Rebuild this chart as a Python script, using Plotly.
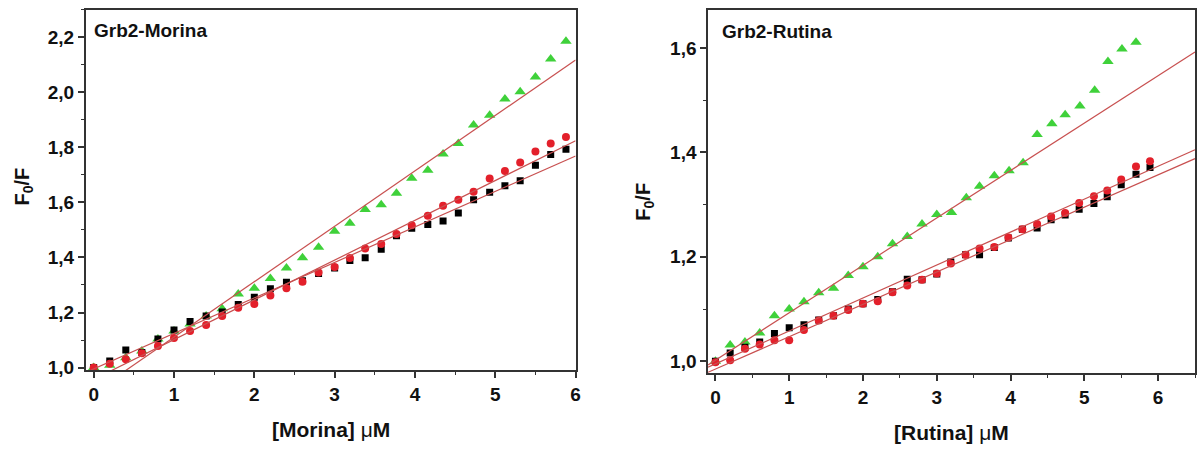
import plotly.graph_objects as go

# ---------------- data: Grb2-Morina ----------------
x_mor = [0.0, 0.2, 0.4, 0.6, 0.8, 1.0, 1.2, 1.4, 1.6, 1.8, 2.0, 2.2, 2.4, 2.6, 2.8, 3.0,
         3.19, 3.38, 3.58, 3.77, 3.96, 4.16, 4.35, 4.54, 4.73, 4.93, 5.12, 5.31, 5.50, 5.69, 5.88]
mor_black = [1.000, 1.024, 1.064, 1.055, 1.104, 1.136, 1.167, 1.187, 1.202, 1.229, 1.255, 1.286,
             1.310, 1.315, 1.342, 1.362, 1.389, 1.399, 1.430, 1.479, 1.506, 1.520, 1.533, 1.562,
             1.610, 1.637, 1.661, 1.679, 1.735, 1.774, 1.793]
mor_red = [1.000, 1.014, 1.030, 1.052, 1.078, 1.107, 1.133, 1.155, 1.187, 1.217, 1.231, 1.262,
           1.288, 1.312, 1.345, 1.365, 1.398, 1.433, 1.449, 1.485, 1.517, 1.552, 1.588, 1.610,
           1.639, 1.687, 1.714, 1.745, 1.785, 1.814, 1.838]
mor_green = [1.000, 1.008, 1.036, 1.060, 1.104, 1.133, 1.158, 1.187, 1.214, 1.267, 1.288, 1.324,
             1.362, 1.399, 1.437, 1.495, 1.524, 1.574, 1.592, 1.633, 1.688, 1.717, 1.776, 1.814,
             1.881, 1.917, 1.976, 2.002, 2.056, 2.121, 2.186]
# linear fits (intercept, slope)
mor_fits = [(0.995, 0.129), (0.957, 0.1445), (0.909, 0.2014)]

# ---------------- data: Grb2-Rutina ----------------
x_rut = [0.0, 0.2, 0.4, 0.6, 0.8, 1.0, 1.2, 1.4, 1.6, 1.8, 2.0, 2.2, 2.4, 2.6, 2.8, 3.0,
         3.19, 3.39, 3.58, 3.78, 3.97, 4.16, 4.36, 4.55, 4.74, 4.93, 5.13, 5.31, 5.50, 5.70, 5.89]
rut_black = [1.000, 1.016, 1.027, 1.037, 1.053, 1.064, 1.070, 1.079, 1.087, 1.100, 1.110, 1.118,
             1.133, 1.157, 1.156, 1.167, 1.190, 1.204, 1.204, 1.218, 1.236, 1.253, 1.255, 1.271,
             1.280, 1.291, 1.302, 1.315, 1.338, 1.358, 1.371]
rut_red = [0.998, 1.002, 1.024, 1.032, 1.040, 1.040, 1.060, 1.078, 1.087, 1.098, 1.110, 1.115,
           1.132, 1.145, 1.156, 1.168, 1.187, 1.204, 1.216, 1.219, 1.237, 1.253, 1.263, 1.277,
           1.284, 1.303, 1.316, 1.327, 1.348, 1.373, 1.383]
x_rut_green = [0.0, 0.2, 0.4, 0.6, 0.8, 1.0, 1.2, 1.4, 1.6, 1.8, 2.0, 2.2, 2.4, 2.6, 2.8, 3.0,
               3.2, 3.4, 3.58, 3.78, 3.98, 4.17, 4.36, 4.56, 4.74, 4.94, 5.14, 5.32, 5.51, 5.70]
rut_green = [1.000, 1.031, 1.037, 1.054, 1.087, 1.100, 1.114, 1.131, 1.140, 1.164, 1.181, 1.200,
             1.225, 1.239, 1.263, 1.281, 1.285, 1.313, 1.335, 1.355, 1.365, 1.380, 1.434, 1.455,
             1.472, 1.489, 1.519, 1.574, 1.598, 1.611]
rut_fits = [(0.985, 0.062), (0.995, 0.0631), (1.002, 0.0908)]

# ---------------- styling ----------------
FONT = "Liberation Sans, Arial, sans-serif"
C_BLACK = "#000000"
C_RED = "#e3202b"
C_GREEN = "#3fd13a"
C_FIT = "rgb(200,80,80)"

XR1 = [-0.1, 6.0]
YR1 = [0.99, 2.30]
XR2 = [-0.1, 6.5]
YR2 = [0.977, 1.673]

fig = go.Figure()


def add_points(x, y, xa, ya, color, symbol, size):
    fig.add_trace(go.Scatter(x=x, y=y, mode="markers", xaxis=xa, yaxis=ya,
                             marker=dict(color=color, symbol=symbol, size=size,
                                         line=dict(width=0)),
                             showlegend=False, hoverinfo="x+y"))


def add_fit(fit, xr, xa, ya):
    a, b = fit
    xs = [xr[0], xr[1]]
    ys = [a + b * v for v in xs]
    fig.add_trace(go.Scatter(x=xs, y=ys, mode="lines", xaxis=xa, yaxis=ya,
                             line=dict(color=C_FIT, width=1.2),
                             showlegend=False, hoverinfo="skip"))


# left panel
add_points(x_mor, mor_green, "x", "y", C_GREEN, "triangle-up", 10)
add_points(x_mor, mor_black, "x", "y", C_BLACK, "square", 7)
add_points(x_mor, mor_red, "x", "y", C_RED, "circle", 8)
for f in mor_fits:
    add_fit(f, XR1, "x", "y")

# right panel
add_points(x_rut_green, rut_green, "x2", "y2", C_GREEN, "triangle-up", 10)
add_points(x_rut, rut_black, "x2", "y2", C_BLACK, "square", 7)
add_points(x_rut, rut_red, "x2", "y2", C_RED, "circle", 8)
for f in rut_fits:
    add_fit(f, XR2, "x2", "y2")

W, H = 1203, 450
tickfont = dict(family=FONT, size=19, color="#111111", weight="bold")
axis_common = dict(showline=True, linecolor="#333333", linewidth=1.5, mirror=True,
                   ticks="outside", ticklen=6, tickwidth=1.5, tickcolor="#333333",
                   showgrid=False, zeroline=False, tickfont=tickfont)


def xaxis(dom, rng, anchor):
    return dict(domain=dom, range=rng, anchor=anchor, tick0=0, dtick=1,
                minor=dict(dtick=0.5, ticks="outside", ticklen=3, tickwidth=1.2,
                           tickcolor="#333333", showgrid=False),
                **axis_common)


def yaxis(dom, rng, anchor):
    return dict(domain=dom, range=rng, anchor=anchor, tick0=0, dtick=0.2, tickformat=".1f",
                minor=dict(dtick=0.1, ticks="outside", ticklen=3, tickwidth=1.2,
                           tickcolor="#333333", showgrid=False),
                **axis_common)


fig.update_layout(
    width=W, height=H, autosize=False,
    margin=dict(l=0, r=0, t=0, b=0),
    paper_bgcolor="white", plot_bgcolor="white",
    separators=", ",
    xaxis=xaxis([86 / W, 578 / W], XR1, "y"),
    yaxis=yaxis([1 - 377 / H, 1 - 10 / H], YR1, "x"),
    xaxis2=xaxis([711 / W, 1200 / W], XR2, "y2"),
    yaxis2=yaxis([1 - 380 / H, 1 - 10 / H], YR2, "x2"),
)

annotations = [
    dict(text="<b>Grb2-Morina</b>", x=92 / W, y=1 - 31 / H, xanchor="left", yanchor="middle", size=19),
    dict(text="<b>Grb2-Rutina</b>", x=723 / W, y=1 - 32 / H, xanchor="left", yanchor="middle", size=19),
    dict(text="<b>[Morina] </b>μ<b>M</b>", x=332 / W, y=1 - 437 / H, xanchor="center", yanchor="middle", size=21),
    dict(text="<b>[Rutina] </b>μ<b>M</b>", x=955 / W, y=1 - 440 / H, xanchor="center", yanchor="middle", size=21),
    dict(text="<b>F<sub>0</sub>/F</b>", x=24 / W, y=1 - 190 / H, xanchor="center", yanchor="middle",
         textangle=-90, size=20),
    dict(text="<b>F<sub>0</sub>/F</b>", x=647 / W, y=1 - 205 / H, xanchor="center", yanchor="middle",
         textangle=-90, size=20),
]
for a in annotations:
    s = a.pop("size")
    a.update(xref="paper", yref="paper", showarrow=False,
             font=dict(family=FONT, size=s, color="#111111"))
fig.update_layout(annotations=annotations)

fig.write_html("out.html")
